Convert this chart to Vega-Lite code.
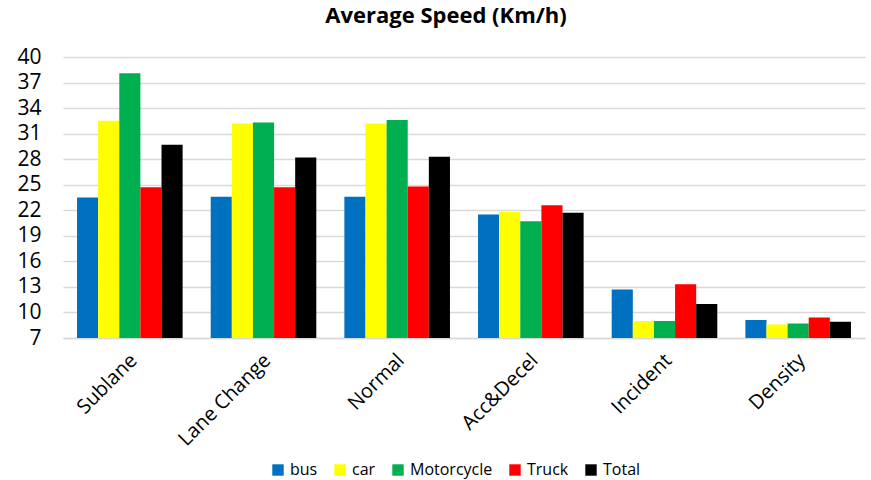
{
  "$schema": "https://vega.github.io/schema/vega-lite/v6.json",
  "autosize": {"type": "none"},
  "width": 802,
  "height": 281,
  "padding": {"left": 63, "top": 57, "right": 6, "bottom": 142},
  "background": "white",
  "title": {
    "text": "Average Speed (Km/h)",
    "font": "Open Sans",
    "fontSize": 22,
    "fontWeight": "bold",
    "color": "#000000",
    "anchor": "middle",
    "dx": -18,
    "offset": 18
  },
  "data": {
    "values": [
      {"scenario": "Sublane", "vehicle": "bus", "speed": 23.5},
      {"scenario": "Sublane", "vehicle": "car", "speed": 32.5},
      {"scenario": "Sublane", "vehicle": "Motorcycle", "speed": 38.1},
      {"scenario": "Sublane", "vehicle": "Truck", "speed": 24.7},
      {"scenario": "Sublane", "vehicle": "Total", "speed": 29.7},
      {"scenario": "Lane Change", "vehicle": "bus", "speed": 23.6},
      {"scenario": "Lane Change", "vehicle": "car", "speed": 32.2},
      {"scenario": "Lane Change", "vehicle": "Motorcycle", "speed": 32.3},
      {"scenario": "Lane Change", "vehicle": "Truck", "speed": 24.7},
      {"scenario": "Lane Change", "vehicle": "Total", "speed": 28.2},
      {"scenario": "Normal", "vehicle": "bus", "speed": 23.6},
      {"scenario": "Normal", "vehicle": "car", "speed": 32.2},
      {"scenario": "Normal", "vehicle": "Motorcycle", "speed": 32.6},
      {"scenario": "Normal", "vehicle": "Truck", "speed": 24.8},
      {"scenario": "Normal", "vehicle": "Total", "speed": 28.3},
      {"scenario": "Acc&Decel", "vehicle": "bus", "speed": 21.5},
      {"scenario": "Acc&Decel", "vehicle": "car", "speed": 21.8},
      {"scenario": "Acc&Decel", "vehicle": "Motorcycle", "speed": 20.7},
      {"scenario": "Acc&Decel", "vehicle": "Truck", "speed": 22.6},
      {"scenario": "Acc&Decel", "vehicle": "Total", "speed": 21.7},
      {"scenario": "Incident", "vehicle": "bus", "speed": 12.7},
      {"scenario": "Incident", "vehicle": "car", "speed": 9.0},
      {"scenario": "Incident", "vehicle": "Motorcycle", "speed": 9.0},
      {"scenario": "Incident", "vehicle": "Truck", "speed": 13.3},
      {"scenario": "Incident", "vehicle": "Total", "speed": 11.0},
      {"scenario": "Density", "vehicle": "bus", "speed": 9.1},
      {"scenario": "Density", "vehicle": "car", "speed": 8.6},
      {"scenario": "Density", "vehicle": "Motorcycle", "speed": 8.7},
      {"scenario": "Density", "vehicle": "Truck", "speed": 9.4},
      {"scenario": "Density", "vehicle": "Total", "speed": 8.9}
    ]
  },
  "mark": {"type": "bar", "clip": true},
  "encoding": {
    "x": {
      "field": "scenario",
      "type": "nominal",
      "sort": ["Sublane", "Lane Change", "Normal", "Acc&Decel", "Incident", "Density"],
      "scale": {"paddingInner": 0.21, "paddingOuter": 0.105},
      "axis": {
        "title": null,
        "labelAngle": -45,
        "labelAlign": "right",
        "labelBaseline": "middle",
        "labelFont": "Open Sans",
        "labelFontSize": 20,
        "labelColor": "#000000",
        "labelPadding": 19,
        "labelOffset": 4,
        "ticks": false,
        "domain": true,
        "domainColor": "#d9d9d9",
        "domainWidth": 1.5
      }
    },
    "xOffset": {
      "field": "vehicle",
      "type": "nominal",
      "sort": ["bus", "car", "Motorcycle", "Truck", "Total"],
      "scale": {"paddingInner": 0, "paddingOuter": 0}
    },
    "y": {
      "field": "speed",
      "type": "quantitative",
      "scale": {"domain": [7, 40], "zero": false, "nice": false},
      "axis": {
        "title": null,
        "values": [7, 10, 13, 16, 19, 22, 25, 28, 31, 34, 37, 40],
        "labelFont": "Open Sans",
        "labelFontSize": 21,
        "labelColor": "#000000",
        "labelPadding": 22,
        "ticks": false,
        "domain": false,
        "grid": true,
        "gridColor": "#d9d9d9",
        "gridWidth": 1.5
      }
    },
    "color": {
      "field": "vehicle",
      "type": "nominal",
      "sort": ["bus", "car", "Motorcycle", "Truck", "Total"],
      "scale": {
        "domain": ["bus", "car", "Motorcycle", "Truck", "Total"],
        "range": ["#0070C0", "#FFFF00", "#00B050", "#FF0000", "#000000"]
      },
      "legend": {
        "title": null,
        "orient": "none",
        "legendX": 207,
        "legendY": 405,
        "direction": "horizontal",
        "symbolType": "square",
        "symbolSize": 130,
        "symbolStrokeWidth": 0,
        "labelFont": "Open Sans",
        "labelFontSize": 16,
        "labelColor": "#000000",
        "columnPadding": 14,
        "labelOffset": 4
      }
    }
  },
  "config": {"view": {"stroke": null}}
}
